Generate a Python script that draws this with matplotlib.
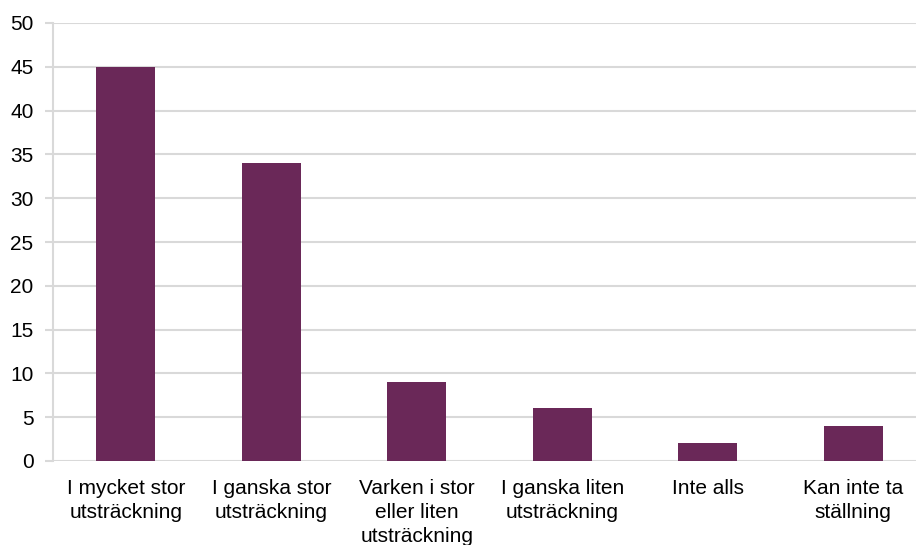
import numpy as np
import matplotlib.pyplot as plt

plt.rcParams['font.family'] = ['Liberation Sans', 'DejaVu Sans']

# data
categories = [
    "I mycket stor\nutsträckning",
    "I ganska stor\nutsträckning",
    "Varken i stor\neller liten\nutsträckning",
    "I ganska liten\nutsträckning",
    "Inte alls",
    "Kan inte ta\nställning",
]
values = [45, 34, 9, 6, 2, 4]
yticks = [0, 5, 10, 15, 20, 25, 30, 35, 40, 45, 50]

bar_color = "#6A2858"
grid_color = "#D9D9D9"

fig = plt.figure(figsize=(9.16, 5.45), dpi=100)
# axes runs slightly past the right edge, as in the original
ax = fig.add_axes([53 / 916, 1 - 461 / 545, 873 / 916, 438 / 545])

x = np.arange(len(categories))
ax.bar(x, values, width=0.405, color=bar_color, zorder=3)

ax.set_xlim(-0.5, len(categories) - 0.5)
ax.set_ylim(0, 50)
ax.set_yticks(yticks)
ax.set_xticks(x)
ax.set_xticklabels(categories, fontsize=15, linespacing=1.33)
ax.tick_params(axis='y', labelsize=15, length=6, color=grid_color, width=1.5, pad=8)
ax.tick_params(axis='x', length=0, pad=13)

ax.yaxis.grid(True, color=grid_color, linewidth=1.5, zorder=0)
for s in ['top', 'right', 'bottom']:
    ax.spines[s].set_visible(False)
ax.spines['left'].set_color(grid_color)
ax.spines['left'].set_linewidth(1.5)

fig.savefig("out.png", dpi=100)
